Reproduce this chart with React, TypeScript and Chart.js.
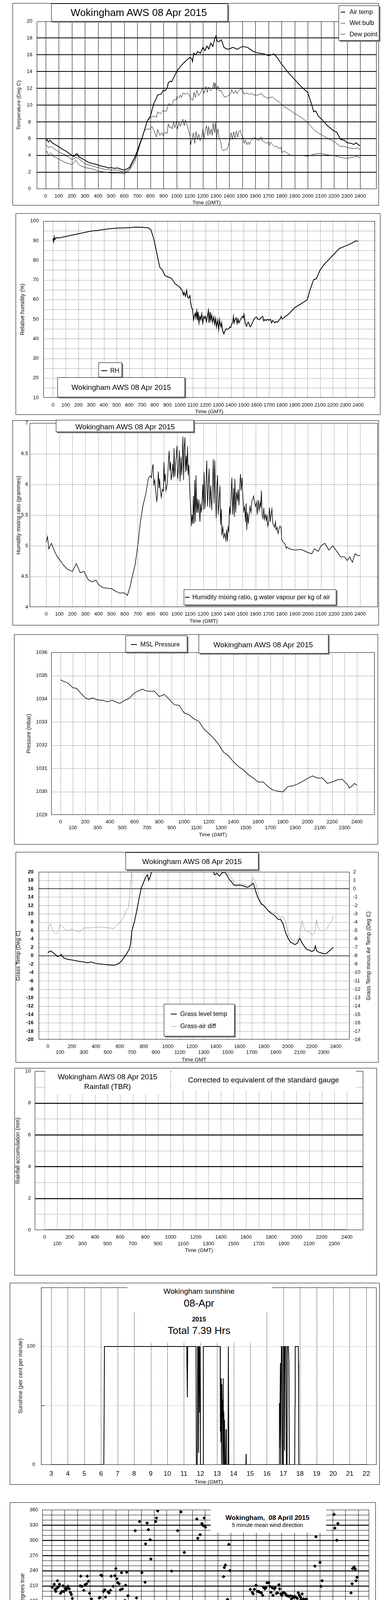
import React, { useEffect, useRef } from "react";
import { Chart, registerables } from "chart.js";
Chart.register(...registerables);

const FONT = "'Liberation Sans', Arial, Helvetica, sans-serif";
Chart.defaults.font.family = FONT;
Chart.defaults.color = "#000";

type Pt = [number, number];

// ---------- tick values / labels ----------
const timeTicks = [0, 100, 200, 300, 400, 500, 600, 700, 800, 900, 1000, 1100, 1200, 1300, 1400, 1500, 1600, 1700, 1800, 1900, 2000, 2100, 2200, 2300, 2400];
const tempTicks = [0, 2, 4, 6, 8, 10, 12, 14, 16, 18, 20];
const rhTicks = [10, 20, 30, 40, 50, 60, 70, 80, 90, 100];
const mixTicks = [4, 4.5, 5, 5.5, 6, 6.5, 7];
const pressTicks = [1029, 1030, 1031, 1032, 1033, 1034, 1035, 1036];
const grassTicks = [-20, -18, -16, -14, -12, -10, -8, -6, -4, -2, 0, 2, 4, 6, 8, 10, 12, 14, 16, 18, 20];
const diffTicks = [-18, -17, -16, -15, -14, -13, -12, -11, -10, -9, -8, -7, -6, -5, -4, -3, -2, -1, 0, 1, 2];
const rainTicks = [0, 2, 4, 6, 8, 10];
const sunTicks = [0, 50, 100];
const sunHourTicks = [3, 4, 5, 6, 7, 8, 9, 10, 11, 12, 13, 14, 15, 16, 17, 18, 19, 20, 21, 22];
const dirTicks = [0, 30, 60, 90, 120, 150, 180, 210, 240, 270, 300, 330, 360];
const dirHourTicks = [0, 1, 2, 3, 4, 5, 6, 7, 8, 9, 10, 11, 12, 13, 14, 15, 16, 17, 18, 19, 20, 21, 22, 23, 24];
const speedTicks = [0, 10, 20, 30, 40, 50];
const windHourTicks = [0, 1, 2, 3, 4, 5, 6, 7, 8, 9, 10, 11, 12, 13, 14, 15, 16, 17, 18, 19, 20, 21, 22, 23];
const windHourLabels = ["00:00", "01:00", "02:00", "03:00", "04:00", "05:00", "06:00", "07:00", "08:00", "09:00", "10:00", "11:00", "12:00", "13:00", "14:00", "15:00", "16:00", "17:00", "18:00", "19:00", "20:00", "21:00", "22:00", "23:00"];

// ---------- panel 1: temperatures ----------
const airTemp: Pt[] = [[0,5.7],[10,5.9],[20,5.6],[35,5.8],[50,5.5],[70,5.3],[100,5.05],[120,4.8],[150,4.55],[175,4.3],[200,4.0],[215,3.85],[230,4.15],[240,4.2],[255,3.8],[280,3.6],[300,3.4],[330,3.15],[350,3.05],[380,2.95],[400,2.85],[430,2.7],[450,2.65],[480,2.5],[500,2.55],[520,2.45],[550,2.5],[575,2.35],[600,2.25],[620,2.4],[640,2.55],[660,3.2],[680,3.8],[700,4.55],[720,5.5],[735,6.06],[775,8.1],[800,8.72],[825,10.2],[845,10.83],[855,11.22],[880,11.3],[896,11.77],[911,11.7],[926,12.0],[936,12.7],[951,12.86],[961,12.78],[976,13.25],[991,13.72],[1000,14.05],[1030,14.65],[1060,15.15],[1100,15.7],[1115,15.5],[1120,15.2],[1130,16.2],[1145,16.0],[1160,16.4],[1180,16.2],[1200,16.9],[1215,16.5],[1230,17.05],[1245,16.7],[1260,17.4],[1275,17.0],[1290,17.9],[1300,18.25],[1310,17.6],[1320,17.55],[1340,17.8],[1360,16.9],[1380,16.7],[1400,16.7],[1430,16.9],[1460,16.65],[1500,17.0],[1540,16.9],[1580,16.45],[1620,16.2],[1660,16.15],[1700,15.9],[1740,16.1],[1760,15.8],[1800,14.9],[1850,13.9],[1900,13.05],[1950,12.2],[2000,11.5],[2030,10.05],[2045,9.2],[2060,9.3],[2080,8.7],[2100,8.4],[2150,7.55],[2200,6.9],[2220,6.8],[2250,5.9],[2280,5.8],[2300,5.5],[2330,5.45],[2350,5.3],[2370,5.5],[2390,5.2],[2400,5.2]];
const wetBulb: Pt[] = [[0,5.3],[20,4.9],[40,5.1],[60,4.85],[100,4.4],[150,4.05],[200,3.5],[230,3.75],[250,3.65],[300,3.0],[350,2.75],[400,2.55],[450,2.35],[500,2.25],[550,2.25],[600,2.0],[640,2.4],[680,3.55],[700,4.4],[720,5.3],[735,6.0],[775,8.1],[805,8.56],[825,8.7],[845,8.56],[855,9.2],[876,8.95],[896,9.35],[921,9.27],[931,9.8],[941,10.2],[961,9.97],[976,10.6],[998,10.67],[1001,11.06],[1017,10.83],[1027,11.2],[1037,10.9],[1047,11.45],[1067,11.3],[1082,11.45],[1097,11.14],[1112,10.67],[1122,10.6],[1132,11.53],[1142,10.9],[1153,11.77],[1168,11.14],[1183,11.53],[1198,12.0],[1208,11.4],[1223,12.23],[1233,11.53],[1243,12.16],[1258,11.7],[1273,12.0],[1283,12.7],[1288,11.92],[1293,12.63],[1304,11.77],[1314,12.3],[1324,11.7],[1339,11.77],[1349,11.37],[1364,10.94],[1379,11.0],[1399,11.2],[1414,11.45],[1419,11.84],[1434,11.37],[1450,11.77],[1460,11.37],[1480,11.84],[1495,11.92],[1505,11.7],[1515,11.3],[1530,11.45],[1550,11.3],[1570,11.37],[1591,11.2],[1621,11.2],[1646,11.4],[1656,11.14],[1676,10.98],[1691,10.83],[1711,10.9],[1732,10.98],[1752,10.67],[1782,10.36],[1817,9.8],[1850,9.55],[1900,9.0],[1950,8.55],[2000,7.9],[2050,7.0],[2100,6.5],[2150,6.05],[2200,5.65],[2250,5.05],[2270,5.1],[2300,4.95],[2350,4.8],[2380,4.9],[2400,4.65]];
const dewPoint: Pt[] = [[0,4.4],[10,4.5],[20,4.0],[40,4.3],[60,3.9],[100,3.55],[150,3.15],[200,2.9],[230,3.4],[260,2.8],[300,2.55],[350,2.4],[400,2.15],[450,2.0],[500,1.9],[550,1.9],[600,1.8],[640,2.25],[680,3.25],[700,4.25],[720,5.3],[735,6.06],[755,7.0],[775,7.16],[795,7.1],[810,7.47],[825,7.0],[840,6.37],[845,6.2],[855,7.1],[871,6.37],[886,6.7],[896,6.37],[911,6.77],[926,6.6],[936,7.78],[946,7.3],[956,7.47],[966,7.16],[976,7.94],[986,7.3],[998,8.1],[1006,7.16],[1017,7.94],[1027,7.47],[1037,7.86],[1047,8.33],[1057,7.55],[1067,8.25],[1082,7.47],[1092,6.84],[1102,6.37],[1107,5.28],[1117,5.9],[1127,6.7],[1137,5.44],[1147,6.84],[1157,5.9],[1168,6.53],[1178,5.75],[1193,6.37],[1200,7.16],[1208,6.06],[1218,7.0],[1228,7.55],[1238,6.37],[1243,7.47],[1253,6.53],[1263,7.16],[1271,6.37],[1278,7.86],[1288,6.7],[1294,7.94],[1304,6.06],[1314,7.16],[1324,5.9],[1334,5.75],[1344,4.81],[1354,4.58],[1369,4.66],[1384,4.73],[1394,5.12],[1404,5.75],[1414,6.7],[1424,5.9],[1434,6.84],[1444,6.06],[1455,6.92],[1465,6.2],[1475,6.84],[1485,7.0],[1495,6.37],[1505,6.2],[1515,5.44],[1525,5.83],[1535,5.28],[1545,5.6],[1555,5.28],[1565,5.75],[1580,5.98],[1596,6.14],[1611,5.9],[1626,5.75],[1636,6.06],[1646,6.2],[1651,5.75],[1666,5.67],[1681,5.44],[1696,5.6],[1706,5.2],[1716,5.6],[1731,5.28],[1747,5.05],[1762,5.12],[1777,4.81],[1792,4.97],[1807,4.34],[1822,4.5],[1850,4.2],[1870,4.0],[1900,4.0],[1950,4.0],[2000,3.9],[2050,4.15],[2100,4.25],[2150,4.05],[2200,4.0],[2250,3.75],[2300,3.65],[2350,3.8],[2380,3.9],[2400,3.65]];

// ---------- panel 2: relative humidity ----------
const relHum: Pt[] = [[0,91.1],[5,89.5],[10,92],[15,90.5],[25,91.5],[50,91.4],[100,92.1],[150,92.8],[200,93.5],[250,94.2],[300,94.9],[350,95.2],[400,95.7],[450,96.1],[500,96.4],[550,96.5],[600,96.6],[650,96.9],[700,96.8],[750,96.6],[770,95.5],[790,91.4],[800,88.7],[820,82.5],[840,76.4],[860,75.0],[880,72.2],[900,71.6],[930,70.9],[960,68.1],[1000,66.1],[1015,64.7],[1026,62.3],[1031,63.7],[1041,61.7],[1051,64.7],[1057,61.4],[1067,60.7],[1077,62.0],[1082,58.7],[1090,55.7],[1096,55.4],[1100,53.4],[1106,49.7],[1114,52.1],[1119,53.1],[1124,50.7],[1131,54.1],[1137,49.4],[1141,53.7],[1148,48.1],[1155,51.4],[1162,49.7],[1170,52.7],[1178,48.1],[1186,51.4],[1193,50.4],[1199,51.4],[1207,48.8],[1214,51.4],[1222,54.4],[1227,48.1],[1235,53.7],[1241,49.4],[1248,52.1],[1255,48.4],[1264,51.1],[1272,47.4],[1279,50.4],[1286,46.1],[1295,49.4],[1303,44.8],[1310,49.7],[1315,47.4],[1321,46.1],[1326,48.1],[1331,45.4],[1336,43.8],[1344,42.5],[1352,44.1],[1362,45.1],[1372,44.8],[1383,45.1],[1390,46.1],[1398,45.8],[1406,47.4],[1414,48.8],[1419,51.4],[1424,48.1],[1431,49.7],[1440,50.7],[1448,47.8],[1455,50.1],[1462,48.1],[1471,49.4],[1481,50.4],[1489,51.4],[1496,50.7],[1502,52.4],[1507,50.1],[1512,47.8],[1522,46.4],[1530,48.1],[1538,48.4],[1545,46.8],[1551,46.1],[1559,46.8],[1569,48.4],[1579,49.7],[1590,50.7],[1600,51.1],[1610,50.1],[1621,49.7],[1631,50.4],[1641,51.1],[1649,51.4],[1657,49.1],[1667,49.7],[1678,49.4],[1688,49.9],[1698,49.4],[1709,49.9],[1719,48.1],[1727,49.3],[1735,48.8],[1745,48.1],[1755,48.8],[1766,48.4],[1776,49.4],[1786,50.1],[1794,51.4],[1802,50.1],[1812,50.4],[1820,51.1],[1850,52.4],[1900,55.8],[1950,57.8],[2000,59.9],[2020,64.7],[2050,70.2],[2070,70.5],[2100,75.0],[2130,77.7],[2150,79.1],[2200,82.5],[2250,85.9],[2300,87.3],[2350,88.7],[2380,89.9],[2400,89.7]];

// ---------- panel 3: mixing ratio ----------
const mixRatio: Pt[] = [[0,5.06],[10,5.15],[20,4.95],[40,5.04],[60,4.93],[80,4.84],[100,4.78],[130,4.69],[160,4.62],[200,4.58],[230,4.71],[260,4.56],[290,4.58],[320,4.45],[350,4.41],[380,4.44],[400,4.37],[430,4.32],[460,4.31],[500,4.30],[530,4.26],[560,4.23],[600,4.23],[620,4.19],[640,4.32],[660,4.52],[680,4.69],[700,5.0],[720,5.39],[740,5.66],[760,5.83],[780,6.09],[795,6.14],[805,6.11],[813,6.30],[817,6.32],[823,6.0],[830,6.07],[837,5.90],[845,5.73],[850,5.81],[857,6.21],[863,5.94],[867,6.09],[873,5.90],[880,5.79],[887,5.92],[895,5.89],[900,6.37],[905,6.05],[910,6.17],[915,5.90],[925,6.0],[935,6.39],[940,6.55],[945,6.22],[950,6.37],[955,6.07],[963,6.20],[967,6.34],[973,6.11],[977,6.59],[983,6.13],[990,6.37],[995,6.48],[1000,6.63],[1005,6.09],[1013,6.32],[1017,6.56],[1023,6.05],[1030,6.45],[1035,6.15],[1040,6.37],[1045,6.78],[1050,6.07],[1055,6.58],[1060,6.77],[1065,6.20],[1070,6.47],[1075,6.22],[1080,6.62],[1085,6.15],[1090,6.32],[1095,6.0],[1100,5.77],[1105,5.62],[1110,5.32],[1115,5.51],[1120,5.36],[1125,5.81],[1130,5.36],[1135,6.07],[1140,5.39],[1145,6.15],[1150,5.54],[1155,5.77],[1160,5.54],[1167,5.75],[1175,5.39],[1180,5.69],[1185,5.54],[1192,5.75],[1197,6.0],[1202,5.58],[1207,6.20],[1213,5.60],[1220,5.94],[1227,6.39],[1233,5.64],[1240,6.03],[1245,6.26],[1250,5.62],[1257,5.98],[1265,5.58],[1273,6.09],[1277,6.41],[1283,5.69],[1288,6.39],[1295,5.77],[1300,5.45],[1305,5.96],[1310,6.15],[1315,5.51],[1322,5.73],[1328,5.98],[1333,5.34],[1338,5.60],[1343,5.17],[1350,5.30],[1357,5.13],[1365,5.20],[1373,5.09],[1379,5.26],[1385,5.07],[1390,5.30],[1395,5.24],[1401,5.64],[1407,5.51],[1413,5.81],[1419,6.11],[1425,5.51],[1432,5.94],[1437,5.47],[1442,6.09],[1448,5.54],[1455,5.88],[1462,5.73],[1467,5.92],[1473,5.66],[1479,5.98],[1485,6.17],[1490,5.90],[1497,6.11],[1503,5.81],[1510,5.56],[1517,5.64],[1523,5.39],[1528,5.69],[1533,5.26],[1538,5.54],[1545,5.36],[1552,5.54],[1558,5.64],[1565,5.54],[1572,5.73],[1580,5.77],[1585,5.81],[1592,5.71],[1600,5.64],[1607,5.71],[1613,5.51],[1620,5.75],[1627,5.58],[1635,5.71],[1640,5.62],[1645,5.90],[1650,5.51],[1657,5.45],[1663,5.62],[1668,5.43],[1675,5.51],[1682,5.41],[1688,5.51],[1693,5.32],[1700,5.39],[1707,5.62],[1712,5.39],[1719,5.51],[1725,5.60],[1732,5.36],[1738,5.34],[1745,5.30],[1752,5.39],[1757,5.26],[1765,5.30],[1772,5.20],[1780,5.28],[1787,5.32],[1795,5.30],[1800,5.11],[1807,5.07],[1815,5.05],[1825,5.03],[1835,4.96],[1840,4.98],[1860,4.95],[1900,4.93],[1950,4.94],[2000,4.89],[2030,4.87],[2050,4.95],[2080,4.91],[2100,5.0],[2130,5.04],[2160,4.93],[2190,5.0],[2220,4.91],[2250,4.82],[2280,4.82],[2300,4.76],[2320,4.82],[2340,4.73],[2360,4.87],[2380,4.84],[2400,4.84]];

// ---------- panel 4: pressure ----------
const mslPressure: Pt[] = [[0,1034.82],[30,1034.74],[60,1034.68],[100,1034.48],[130,1034.45],[160,1034.27],[200,1034.04],[230,1033.98],[260,1034.04],[300,1033.95],[350,1033.93],[380,1033.87],[420,1033.94],[460,1033.84],[480,1033.81],[520,1033.93],[560,1034.04],[600,1034.27],[640,1034.36],[660,1034.42],[700,1034.33],[760,1034.33],[800,1034.10],[840,1034.19],[880,1033.98],[920,1033.75],[960,1033.72],[1000,1033.40],[1040,1033.32],[1080,1033.14],[1120,1033.03],[1160,1032.71],[1200,1032.51],[1240,1032.30],[1280,1032.04],[1320,1031.70],[1360,1031.55],[1400,1031.29],[1440,1031.09],[1480,1030.94],[1520,1030.74],[1560,1030.59],[1600,1030.42],[1640,1030.42],[1680,1030.22],[1720,1030.07],[1760,1030.02],[1800,1029.99],[1840,1030.22],[1880,1030.25],[1920,1030.33],[1960,1030.45],[2000,1030.57],[2040,1030.68],[2080,1030.59],[2120,1030.59],[2160,1030.36],[2200,1030.42],[2240,1030.51],[2280,1030.54],[2320,1030.33],[2340,1030.16],[2360,1030.25],[2380,1030.36],[2400,1030.28]];

// ---------- panel 5: grass temperature ----------
const grassTemp: Pt[] = [[0,0.67],[10,1.0],[20,1.17],[40,0.83],[60,0.33],[80,-0.17],[100,0],[110,0.33],[130,-0.5],[160,-0.83],[200,-1.0],[230,-1.17],[260,-1.33],[300,-1.5],[330,-1.67],[360,-1.5],[400,-1.83],[450,-2.0],[500,-2.17],[550,-2.27],[580,-2.0],[600,-1.67],[620,-1.0],[640,-0.17],[660,0.67],[680,1.67],[690,3.0],[700,6.0],[720,8.0],[740,10.67],[760,13.67],[780,16.33],[800,17.67],[820,19.0],[830,19.33],[840,18.0],[850,18.67],[870,20.5],[900,22],[1000,24],[1100,25],[1200,25],[1300,23],[1370,20.5],[1380,20],[1390,19.3],[1410,19.67],[1430,19.0],[1450,19.67],[1470,20],[1490,19.4],[1510,18.3],[1530,17.67],[1550,16.83],[1570,16.83],[1600,16.83],[1630,16.67],[1660,16.33],[1680,16.5],[1700,17],[1710,17.33],[1720,16.67],[1740,14.67],[1760,13.33],[1780,12.33],[1800,12.0],[1820,11.33],[1840,10.67],[1860,10.17],[1880,9.83],[1900,9.33],[1920,8.67],[1940,8.67],[1960,7.67],[1980,5.67],[2000,4.33],[2020,3.33],[2040,3.0],[2060,2.67],[2080,3.0],[2100,4.17],[2120,3.0],[2140,2.17],[2160,1.5],[2180,1.33],[2200,1.0],[2220,1.33],[2230,2.33],[2240,1.17],[2260,0.83],[2280,0.67],[2300,0.5],[2320,0.5],[2340,1.0],[2360,1.5],[2380,2.0]];
const grassAirDiff: Pt[] = [[0,-5.0],[10,-4.5],[20,-4.17],[30,-4.67],[50,-5.17],[70,-5.42],[90,-5.0],[100,-4.25],[120,-4.5],[140,-4.83],[160,-5.0],[200,-4.83],[230,-5.0],[260,-5.17],[280,-4.9],[300,-4.67],[350,-4.67],[400,-4.58],[450,-4.58],[500,-4.67],[550,-4.75],[580,-4.25],[600,-4.08],[630,-3.5],[650,-2.67],[670,-2.33],[680,-1.17],[690,0.67],[700,2.2],[750,4],[900,5],[1100,5],[1300,4],[1450,3],[1500,2.1],[1530,1.33],[1550,0.83],[1570,0.17],[1590,0.5],[1620,0.58],[1650,0.42],[1680,0.33],[1700,0.8],[1710,1.33],[1720,1.17],[1740,0.33],[1760,-0.83],[1780,-1.67],[1800,-2.08],[1820,-2.33],[1840,-2.67],[1860,-2.75],[1880,-2.83],[1900,-2.92],[1920,-3.0],[1940,-3.5],[1960,-3.33],[1980,-3.83],[2000,-5.17],[2020,-5.83],[2040,-6.17],[2060,-6.33],[2080,-6.17],[2100,-5.5],[2120,-3.83],[2140,-4.83],[2160,-5.17],[2180,-5.0],[2200,-5.5],[2220,-5.33],[2230,-4.83],[2240,-3.67],[2250,-4.5],[2270,-5.0],[2290,-5.0],[2310,-5.0],[2330,-4.67],[2350,-4.17],[2370,-3.75],[2380,-3.17]];

// ---------- panel 6: rainfall ----------
const rainfall: Pt[] = [[0, 0], [2400, 0]];

// ---------- panel 7: sunshine ----------
const sunshine: Pt[] = [[3,0],[6.17,0],[6.19,41],[6.21,100],[11.17,100],[11.19,79],[11.21,57],[11.23,100],[11.73,100],[11.75,0],[11.81,0],[11.83,100],[11.87,100],[11.88,10],[11.9,100],[11.93,100],[11.95,44],[11.97,100],[12.0,0],[12.15,0],[12.17,100],[13.19,100],[13.2,28],[13.22,60],[13.23,19],[13.25,73],[13.27,0],[13.29,68],[13.31,40],[13.33,55],[13.35,0],[13.37,73],[13.39,10],[13.41,45],[13.43,0],[13.45,38],[13.47,0],[13.52,0],[13.54,30],[13.56,0],[13.66,0],[13.68,100],[13.7,100],[13.71,0],[14.74,0],[14.75,9],[14.76,0],[16.75,0],[16.76,52],[16.77,14],[16.82,86],[16.84,0],[16.88,100],[16.92,100],[16.94,0],[16.98,0],[17.0,100],[17.05,100],[17.07,12],[17.1,100],[17.16,100],[17.18,0],[17.22,0],[17.24,100],[17.3,100],[17.33,88],[17.36,0],[17.68,0],[17.7,50],[17.71,100],[17.9,100],[17.91,87],[17.92,36],[17.93,0],[22,0]];

// ---------- panel 8: wind direction ----------
const windDirection: Pt[] = [[0.04,207],[0.2,213],[0.26,203],[0.32,199],[0.4,205],[0.45,220],[0.53,208],[0.61,213],[0.69,195],[0.81,199],[0.89,210],[0.95,199],[1.05,205],[1.13,202],[1.21,206],[1.28,209],[1.38,204],[1.46,197],[1.54,193],[1.62,185],[1.72,162],[1.78,157],[1.88,177],[1.94,174],[2.02,137],[2.13,161],[2.23,210],[2.27,229],[2.37,209],[2.51,201],[2.61,212],[2.73,214],[2.79,229],[2.87,219],[2.96,195],[3.06,178],[3.12,184],[3.22,168],[3.3,135],[3.36,109],[3.46,90],[3.56,135],[3.62,140],[3.72,186],[3.79,187],[3.85,231],[3.93,230],[4.05,199],[4.17,202],[4.21,188],[4.29,161],[4.41,198],[4.49,196],[4.53,90],[4.6,201],[4.66,229],[4.76,170],[4.82,209],[4.94,230],[5.02,244],[5.1,224],[5.18,216],[5.28,214],[5.38,202],[5.47,236],[5.53,204],[5.61,151],[5.73,181],[5.79,211],[5.87,237],[5.97,190],[6.03,153],[6.11,149],[6.21,111],[6.28,70],[6.38,66],[6.44,69],[6.54,319],[6.64,186],[6.72,148],[6.8,144],[6.88,337],[6.96,176],[7.06,236],[7.11,173],[7.19,165],[7.31,217],[7.35,293],[7.47,334],[7.57,321],[7.57,7],[7.61,40],[7.71,301],[7.77,263],[7.89,13],[7.96,7],[8.14,337],[8.2,344],[8.3,358],[8.38,7],[8.48,103],[8.52,9],[8.7,69],[8.75,36],[8.83,33],[8.91,67],[8.96,69],[9.09,70],[9.19,57],[9.31,141],[9.39,239],[9.47,111],[9.55,100],[9.63,46],[9.71,57],[9.78,41],[9.86,319],[9.96,6],[10.0,9],[10.12,356],[10.22,103],[10.3,171],[10.38,276],[10.45,74],[10.51,70],[10.61,69],[10.69,76],[10.81,50],[10.93,1],[11.03,30],[11.09,41],[11.17,43],[11.28,14],[11.36,342],[11.44,304],[11.54,9],[11.62,311],[11.7,20],[11.76,333],[11.86,329],[11.94,344],[12.04,326],[12.13,30],[12.19,24],[12.27,4],[12.37,27],[12.41,13],[12.51,46],[12.61,53],[12.65,26],[12.75,43],[12.85,40],[12.94,83],[13.0,29],[13.1,73],[13.16,132],[13.26,119],[13.36,163],[13.46,228],[13.52,246],[13.6,251],[13.7,171],[13.77,183],[13.87,292],[13.95,240],[14.03,44],[14.11,56],[14.21,82],[14.29,93],[14.37,55],[14.45,31],[14.53,91],[14.6,94],[14.68,76],[14.76,74],[14.86,84],[14.94,96],[15.02,100],[15.1,107],[15.18,129],[15.28,122],[15.36,163],[15.47,176],[15.55,203],[15.71,197],[15.77,194],[15.87,203],[16.0,211],[16.11,199],[16.21,199],[16.3,197],[16.42,196],[16.52,191],[16.58,207],[16.7,204],[16.78,206],[16.86,216],[17.0,216],[17.09,209],[17.17,197],[17.27,206],[17.33,191],[17.43,204],[17.49,206],[17.59,195],[17.69,196],[17.79,212],[17.85,204],[17.94,194],[18.02,191],[18.12,196],[18.2,196],[18.28,195],[18.38,191],[18.48,190],[18.58,189],[18.7,190],[18.77,184],[18.87,189],[18.95,187],[19.03,189],[19.13,187],[19.23,185],[19.31,196],[19.39,191],[19.49,187],[19.53,183],[19.61,194],[19.64,181],[19.72,184],[19.8,181],[19.88,183],[19.94,184],[20.02,180],[20.1,179],[20.18,174],[20.26,160],[20.36,158],[20.45,171],[20.53,173],[20.61,249],[20.69,307],[20.83,28],[20.89,20],[21.01,256],[21.09,209],[21.17,220],[21.28,144],[21.34,137],[21.42,141],[21.48,144],[21.58,113],[21.68,96],[21.76,69],[21.84,74],[21.94,65],[22.04,27],[22.11,351],[22.17,324],[22.25,57],[22.33,300],[22.41,333],[22.55,24],[22.61,21],[22.69,81],[22.77,165],[22.83,103],[22.94,85],[23.02,93],[23.08,92],[23.16,95],[23.24,97],[23.32,107],[23.44,196],[23.52,214],[23.56,244],[23.68,247],[23.77,243],[23.83,220],[23.91,227]];

// ---------- panel 9: wind speed ----------
const speedMean: Pt[] = [[0,1.26],[0.2,2.1],[0.4,1.5],[0.6,2.1],[0.8,1.5],[1.0,2.1],[1.2,1.8],[1.4,2.1],[1.6,1.26],[1.8,1.5],[2.0,0.44],[2.2,1.8],[2.4,1.26],[2.6,0.7],[2.8,0.55],[3.0,0.44],[3.5,0.55],[4.0,1.0],[4.5,0.55],[5.0,0.9],[5.5,1.0],[6.0,0.9],[6.5,1.0],[6.8,0.16],[7.0,0.7],[7.3,0.44],[7.6,1.0],[8.0,0.7],[8.3,1.26],[8.6,1.8],[9.0,2.1],[9.3,1.5],[9.6,2.35],[10.0,1.8],[10.3,2.35],[10.6,1.26],[11.0,2.1],[11.3,1.5],[11.6,2.6],[12.0,2.1],[12.3,3.2],[12.6,2.6],[13.0,2.1],[13.3,2.9],[13.6,2.1],[13.9,1.26],[14.0,2.1],[14.3,2.6],[14.6,2.6],[15.0,3.7],[15.3,4.3],[15.6,5.6],[15.9,7.3],[16.1,6.2],[16.4,5.4],[16.7,5.1],[17.0,5.4],[17.3,5.1],[17.6,5.9],[17.9,5.1],[18.2,6.7],[18.5,5.6],[18.8,5.4],[19.1,4.8],[19.4,4.0],[19.7,3.2],[20.0,2.6],[20.3,2.35],[20.6,1.5],[20.9,1.0],[21.2,0.55],[21.5,1.26],[21.8,1.8],[22.1,1.26],[22.4,0.55],[22.7,0.7],[23.0,1.8],[23.2,3.7],[23.4,3.45],[23.6,1.5],[23.9,1.26],[24.0,0.9]];
const speedGust: Pt[] = [[0,3.2],[0.2,2.6],[0.5,3.45],[0.8,2.6],[1.0,4.0],[1.3,2.6],[1.6,2.9],[1.9,2.1],[2.0,1.0],[2.2,3.45],[2.5,2.1],[2.8,1.26],[3.0,1.0],[3.5,1.1],[4.0,1.64],[4.5,1.26],[5.0,1.5],[5.5,1.5],[6.0,1.5],[6.5,1.5],[6.8,0.44],[7.0,1.26],[7.5,1.5],[8.0,2.1],[8.3,2.6],[8.6,3.45],[9.0,4.3],[9.3,3.45],[9.6,4.8],[10.0,4.0],[10.3,5.1],[10.6,3.7],[11.0,4.8],[11.3,4.0],[11.6,5.4],[12.0,4.8],[12.3,5.9],[12.6,5.1],[13.0,4.8],[13.3,5.6],[13.6,4.8],[13.9,3.2],[14.0,4.0],[14.3,5.1],[14.6,5.1],[15.0,6.5],[15.3,7.8],[15.6,10.3],[15.9,12.5],[16.1,9.7],[16.4,8.1],[16.7,8.9],[17.0,7.6],[17.3,8.7],[17.6,9.7],[17.9,8.1],[18.2,9.7],[18.5,8.1],[18.8,7.6],[19.1,6.2],[19.4,5.6],[19.7,4.8],[20.0,4.5],[20.3,3.7],[20.6,2.6],[20.9,1.5],[21.2,1.0],[21.5,2.1],[21.8,2.35],[22.1,2.1],[22.4,1.0],[22.7,1.5],[23.0,3.2],[23.2,4.5],[23.4,4.0],[23.6,2.1],[23.9,1.8],[24.0,1.26]];
const speedScaled: Pt[] = [[0.0,12.5],[0.02,13.6],[0.04,15.2],[0.06,17.1],[0.08,19.1],[0.1,22.9],[0.12,25.6],[0.14,24.5],[0.2,21.2],[0.23,20.2],[0.26,21.8],[0.29,19.3],[0.32,20.7],[0.35,18.5],[0.4,20.2],[0.44,21.8],[0.48,19.3],[0.52,21.2],[0.6,23.4],[0.63,25.6],[0.66,26.7],[0.69,24.5],[0.72,22.3],[0.8,27.3],[0.83,25.1],[0.86,22.9],[0.89,21.2],[0.92,18.0],[1.0,17.4],[1.03,19.6],[1.06,22.3],[1.09,27.3],[1.12,28.4],[1.15,24.3],[1.2,22.9],[1.24,21.2],[1.28,19.1],[1.32,17.4],[1.4,16.3],[1.43,15.2],[1.46,13.6],[1.49,12.5],[1.52,11.7],[1.6,14.7],[1.63,16.9],[1.66,18.5],[1.69,21.2],[1.72,22.6],[1.78,16.9],[1.8,12.5],[1.83,10.3],[1.86,7.0],[1.89,4.8],[1.92,8.7],[2.0,9.7],[2.04,11.1],[2.08,9.2],[2.18,14.7],[2.21,17.4],[2.24,20.2],[2.27,23.4],[2.3,24.0],[2.33,21.2],[2.4,19.1],[2.43,16.9],[2.46,13.6],[2.49,11.9],[2.52,10.3],[2.6,8.7],[2.63,7.0],[2.66,5.9],[2.69,4.8],[2.72,4.0],[2.8,6.2],[2.84,7.6],[2.88,8.1],[2.92,5.4],[3.0,4.8],[3.05,5.9],[3.1,7.0],[3.2,7.8],[3.24,6.2],[3.28,4.8],[3.32,4.3],[3.4,5.4],[3.45,7.0],[3.5,8.1],[3.6,8.7],[3.65,10.3],[3.7,11.7],[3.8,13.0],[3.84,13.6],[3.88,11.9],[3.92,9.7],[4.0,8.7],[4.08,7.6],[4.2,7.6],[4.28,6.5],[4.4,5.4],[4.44,4.3],[4.48,3.2],[4.52,5.9],[4.6,4.8],[4.65,7.0],[4.7,6.5],[4.8,7.6],[4.85,8.7],[4.9,9.7],[5.0,10.3],[5.04,11.7],[5.08,11.4],[5.12,9.7],[5.2,8.7],[5.28,8.1],[5.4,7.6],[5.45,6.5],[5.5,5.6],[5.6,5.1],[5.65,4.8],[5.7,5.9],[5.8,9.7],[5.85,10.3],[5.9,10.8],[6.0,9.7],[6.05,10.3],[6.1,8.7],[6.2,10.8],[6.24,12.5],[6.28,14.1],[6.32,10.3],[6.4,8.7],[6.44,7.0],[6.48,5.4],[6.52,3.2],[6.6,6.2],[6.64,6.7],[6.68,4.3],[6.72,2.1],[6.8,2.6],[6.85,1.5],[6.9,0.4],[7.0,2.1],[7.05,3.2],[7.1,4.0],[7.2,2.6],[7.24,4.3],[7.28,7.0],[7.32,8.7],[7.4,10.3],[7.44,11.9],[7.48,7.6],[7.52,5.9],[7.6,9.2],[7.63,10.8],[7.66,7.0],[7.69,4.3],[7.72,2.6],[7.8,8.7],[7.85,12.5],[7.9,10.8],[8.0,9.2],[8.04,11.4],[8.08,14.1],[8.12,7.0],[8.2,12.5],[8.25,10.3],[8.3,8.1],[8.4,5.9],[8.44,4.8],[8.48,7.0],[8.52,10.8],[8.6,15.8],[8.63,18.0],[8.66,19.1],[8.69,16.9],[8.72,14.1],[8.78,20.2],[8.8,22.9],[8.82,26.7],[8.84,29.5],[8.86,31.7],[8.88,32.2],[9.0,30.0],[9.03,27.8],[9.06,24.5],[9.09,20.7],[9.12,19.1],[9.2,16.9],[9.24,15.2],[9.28,12.5],[9.32,10.3],[9.4,8.7],[9.44,5.9],[9.48,12.5],[9.52,17.4],[9.6,22.3],[9.64,20.2],[9.68,18.5],[9.72,16.3],[9.8,14.1],[9.84,12.5],[9.88,9.2],[9.92,17.4],[10.0,22.9],[10.04,21.2],[10.08,19.6],[10.12,16.9],[10.2,15.8],[10.23,13.6],[10.26,11.4],[10.29,9.2],[10.32,7.0],[10.4,4.8],[10.43,18.0],[10.46,21.8],[10.49,24.5],[10.52,26.2],[10.6,23.4],[10.64,20.7],[10.68,17.4],[10.72,30.6],[10.8,30.0],[10.83,27.3],[10.86,24.0],[10.89,20.2],[10.92,18.5],[11.0,16.9],[11.03,14.7],[11.06,13.0],[11.09,10.8],[11.12,9.2],[11.2,18.0],[11.23,19.1],[11.26,21.2],[11.29,23.4],[11.32,25.6],[11.4,30.6],[11.43,22.3],[11.46,20.2],[11.49,16.9],[11.52,15.8],[11.6,10.8],[11.64,9.2],[11.68,13.6],[11.72,19.6],[11.8,22.3],[11.83,25.6],[11.86,30.0],[11.89,33.8],[11.92,36.0],[12.0,32.2],[12.04,30.0],[12.08,27.8],[12.12,25.6],[12.2,38.2],[12.24,36.6],[12.28,33.3],[12.32,30.6],[12.4,35.5],[12.44,26.7],[12.48,23.4],[12.52,19.6],[12.6,22.3],[12.64,24.5],[12.68,38.2],[12.72,36.6],[12.8,34.4],[12.84,32.2],[12.88,28.9],[12.92,25.6],[13.0,21.2],[13.04,19.1],[13.08,18.0],[13.12,22.9],[13.2,27.3],[13.24,30.0],[13.28,32.2],[13.32,33.3],[13.4,31.7],[13.44,34.4],[13.48,28.9],[13.52,26.7],[13.6,23.4],[13.63,21.2],[13.66,17.4],[13.69,15.8],[13.72,14.1],[13.8,12.5],[13.83,10.8],[13.86,8.1],[13.89,5.9],[13.92,3.7],[14.0,18.5],[14.04,14.1],[14.08,22.3],[14.12,24.5],[14.2,25.6],[14.24,27.8],[14.28,28.9],[14.32,30.0],[14.4,27.3],[14.44,26.2],[14.48,28.4],[14.52,25.1],[14.6,30.0],[14.64,31.1],[14.68,34.4],[14.72,37.1],[14.8,38.8],[14.84,39.9],[14.88,37.7],[14.92,36.0],[15.0,35.5],[15.05,33.8],[15.1,32.2],[15.2,33.3],[15.24,34.9],[15.28,36.6],[15.32,38.8],[15.36,39.6],[15.45,39.0],[15.5,38.8],[19.3,38.2],[19.33,36.6],[19.36,37.7],[19.42,34.9],[19.45,32.2],[19.48,30.0],[19.51,27.8],[19.6,26.7],[19.63,25.1],[19.66,24.5],[19.69,26.2],[19.8,29.5],[19.84,31.1],[19.88,30.0],[20.0,32.8],[20.04,31.1],[20.08,28.9],[20.2,26.7],[20.23,23.4],[20.26,20.2],[20.29,16.9],[20.4,15.2],[20.43,13.0],[20.46,10.8],[20.49,8.7],[20.6,16.9],[20.64,18.5],[20.68,15.8],[20.72,12.5],[20.8,9.2],[20.83,6.5],[20.86,5.4],[20.89,4.3],[20.92,2.6],[21.0,7.0],[21.03,9.7],[21.06,12.5],[21.09,14.1],[21.12,15.8],[21.2,19.1],[21.24,21.2],[21.28,22.3],[21.32,20.2],[21.4,19.6],[21.44,21.8],[21.48,23.4],[21.52,24.5],[21.6,21.2],[21.64,18.0],[21.68,15.8],[21.72,13.0],[21.8,12.5],[21.83,10.8],[21.86,8.7],[21.89,6.5],[21.92,4.3],[22.0,2.6],[22.04,3.7],[22.08,5.9],[22.12,7.6],[22.2,8.1],[22.24,7.0],[22.28,5.9],[22.32,8.7],[22.4,9.7],[22.44,10.3],[22.48,12.5],[22.52,15.2],[22.6,16.9],[22.63,18.5],[22.66,21.2],[22.69,24.5],[22.72,26.7],[22.8,29.5],[22.84,32.2],[22.88,33.8],[22.92,34.9],[23.0,32.2],[23.04,27.8],[23.08,23.4],[23.12,18.5],[23.2,16.3],[23.24,14.7],[23.28,12.5],[23.32,11.4],[23.4,13.6],[23.44,15.2],[23.48,12.5],[23.52,10.8],[23.6,14.1],[23.64,12.5],[23.68,10.3],[23.72,9.2]];

// ---------- gridline values ----------
const tempGrid = [2, 4, 6, 8, 10, 12, 14, 16, 18];
const rhGrid = [15, 20, 25, 30, 35, 40, 45, 50, 55, 60, 65, 70, 75, 80, 85, 90, 95];
const mixGrid = [4.5, 5, 5.5, 6, 6.5];
const pressGrid = [1030, 1031, 1032, 1033, 1034, 1035];
const grassDotGrid = [-18, -16, -14, -12, -10, -8, -6, -4, -2, 2, 4, 6, 8, 10, 12, 14, 18];
const grassSolidGrid = [0, 16];
const rainDotGrid = [1, 3, 5, 7, 9];
const rainSolidGrid = [2, 4, 6, 8];
const dirThinGrid = [10, 20, 40, 50, 70, 80, 100, 110, 130, 140, 160, 170, 190, 200, 220, 230, 250, 260, 280, 290, 310, 320, 340, 350];
const dirThickGrid = [30, 60, 90, 120, 150, 180, 210, 240, 270, 300, 330];
const speedGrid = [5, 10, 15, 20, 25, 30, 35, 40, 45];

// ---------- generic panel ----------
type Box4 = [number, number, number, number];
interface AxisDef {
  min: number; max: number; ticks: number[];
  label?: (v: number, i: number) => any;
  size?: number; bold?: boolean; pad: number; lh?: number; cross?: string;
  title?: string; titleSize?: number; titleAt?: number;
}
interface GridDef { axis: string; values: number[]; width: number; color?: string; dash?: number[]; len?: number }
interface PanelDef { frame: Box4; plot: Box4; x: AxisDef; y: AxisDef; y2?: AxisDef; datasets: any[]; grid: GridDef[] }

const M = 20;
const DOT = [1, 2];
const alt = (v: number, i: number) => (i % 2 === 0 ? String(v) : ["", String(v)]);

function ChartPanel({ def, children }: { def: PanelDef; children?: any }) {
  const ref = useRef<HTMLCanvasElement>(null);
  const [fl, ft, fr, fb] = def.frame;
  const cl = Math.round(fl - M), ct = Math.round(ft - M);
  const cw = Math.round(fr + M) - cl, ch = Math.round(fb + M) - ct;

  useEffect(() => {
    const [pl, pt, pr, pb] = def.plot;
    const cr = cl + cw, cb = ct + ch;
    const mk = (a: AxisDef, kind: string) => {
      const size = a.size ?? 13;
      const tSize = a.titleSize ?? 14;
      const tLH = tSize * 1.2;
      let tp: any = { top: 0, bottom: 0 };
      if (a.title && a.titleAt !== undefined) {
        if (kind === "x") tp = { top: 0, bottom: cb - a.titleAt - tLH / 2 };
        else if (kind === "y") tp = { top: a.titleAt - cl - tLH / 2, bottom: 0 };
        else tp = { top: cr - a.titleAt - tLH / 2, bottom: 0 };
      }
      return {
        type: "linear",
        min: a.min, max: a.max,
        position: kind === "x" ? "bottom" : kind === "y" ? "left" : "right",
        afterFit: (s: any) => {
          if (kind === "x") s.height = cb - pb;
          else if (kind === "y") s.width = pl - cl;
          else s.width = cr - pr;
        },
        afterBuildTicks: (s: any) => { s.ticks = a.ticks.map((v) => ({ value: v })); },
        ticks: {
          autoSkip: false, maxRotation: 0, minRotation: 0, padding: a.pad, color: "#000",
          crossAlign: a.cross ?? "near",
          font: { size, weight: a.bold ? "bold" : "normal", lineHeight: a.lh ?? 1.2, family: FONT },
          callback: (v: number, i: number) => (a.label ? a.label(v, i) : String(v)),
        },
        grid: { display: false, drawTicks: false, drawOnChartArea: false },
        border: { display: false },
        title: a.title
          ? { display: true, text: a.title, color: "#000", font: { size: tSize, family: FONT, lineHeight: 1.2 }, padding: tp }
          : { display: false },
      };
    };
    const scales: any = { x: mk(def.x, "x"), y: mk(def.y, "y") };
    if (def.y2) scales.y2 = mk(def.y2, "y2");

    const gridPlugin = {
      id: "customGrid",
      beforeDatasetsDraw(chart: any) {
        const { ctx, chartArea: a } = chart;
        ctx.save();
        for (const g of def.grid) {
          const sc = chart.scales[g.axis];
          ctx.beginPath();
          ctx.lineWidth = g.width;
          ctx.strokeStyle = g.color || "#000";
          ctx.setLineDash(g.dash || []);
          const off = Math.round(g.width) % 2 === 1 ? 0.5 : 0;
          for (const v of g.values) {
            const p = Math.round(sc.getPixelForValue(v)) + off;
            if (g.axis === "x") { ctx.moveTo(p, a.top); ctx.lineTo(p, a.bottom); }
            else { ctx.moveTo(a.left, p); ctx.lineTo(g.len ? a.left + g.len : a.right, p); }
          }
          ctx.stroke();
        }
        ctx.setLineDash([]);
        ctx.lineWidth = 1;
        ctx.strokeStyle = "#000";
        const L = Math.round(a.left) + 0.5, T = Math.round(a.top) + 0.5;
        const R = Math.round(a.right) - 0.5, B = Math.round(a.bottom) - 0.5;
        ctx.strokeRect(L, T, R - L, B - T);
        ctx.restore();
      },
    };

    const chart = new Chart(ref.current as HTMLCanvasElement, {
      type: "line",
      data: { datasets: def.datasets },
      options: {
        animation: false,
        responsive: false,
        maintainAspectRatio: false,
        events: [],
        layout: { padding: { left: 0, top: pt - ct, right: def.y2 ? 0 : cr - pr, bottom: 0 } },
        plugins: { legend: { display: false }, tooltip: { enabled: false }, title: { display: false } },
        elements: { point: { radius: 0 }, line: { tension: 0 } },
        scales,
      } as any,
      plugins: [gridPlugin],
    } as any);
    return () => chart.destroy();
  }, [def]);

  return (
    <>
      <div style={{ position: "absolute", left: fl, top: ft, width: fr - fl, height: fb - ft, border: "1px solid #000", boxSizing: "border-box" }} />
      <canvas ref={ref} width={cw} height={ch} style={{ position: "absolute", left: cl, top: ct, width: cw, height: ch }} />
      {children}
    </>
  );
}

// ---------- overlay helpers ----------
const Box = ({ l, t, r, b, plain }: any) => (
  <div style={{ position: "absolute", left: l, top: t, width: r - l, height: b - t, background: "#fff", border: plain ? "none" : "1px solid #000", boxSizing: "border-box", boxShadow: plain ? "none" : "3px 3px 0 #7f7f7f" }} />
);
const Txt = ({ x, y, size, bold, left, rot, children }: any) => (
  <div style={{ position: "absolute", left: x, top: y, transform: rot ? "translate(-50%,-50%) rotate(-90deg)" : left ? "translate(0,-50%)" : "translate(-50%,-50%)", fontSize: size, fontWeight: bold ? "bold" : "normal", lineHeight: 1, whiteSpace: "pre", color: "#000", fontFamily: FONT }}>{children}</div>
);
const Mark = ({ x1, x2, y, w, color }: any) => (
  <div style={{ position: "absolute", left: x1, top: y - w / 2, width: x2 - x1, height: w, background: color || "#000" }} />
);

const lineDs = (data: Pt[], color: string, width: number, extra: any = {}) => ({
  data, borderColor: color, borderWidth: width, pointRadius: 0, fill: false, tension: 0, ...extra,
});

// ---------- panel definitions ----------
const P1: PanelDef = {
  frame: [32, 8, 969, 526], plot: [93.5, 54.6, 963.2, 483.6],
  x: { min: -69.5, max: 2525, ticks: timeTicks, pad: 10.6, title: "Time (GMT)", titleAt: 519, titleSize: 13.5 },
  y: { min: 0, max: 20, ticks: tempTicks, pad: 10.8, cross: "center", title: "Temperature (Deg C)", titleAt: 48, titleSize: 13.5 },
  grid: [{ axis: "x", values: timeTicks, width: 1 }, { axis: "y", values: tempGrid, width: 2 }],
  datasets: [lineDs(airTemp, "#000", 2), lineDs(wetBulb, "#000", 1), lineDs(dewPoint, "#000", 1)],
};
const P2: PanelDef = {
  frame: [40, 546, 973, 1062], plot: [111, 565.8, 959.4, 1018],
  x: { min: -75.3, max: 2533, ticks: timeTicks, pad: 11.2, title: "Time (GMT)", titleAt: 1054, titleSize: 13.5 },
  y: { min: 10, max: 100, ticks: rhTicks, pad: 12.3, title: "Relative humidity (%)", titleAt: 58 },
  grid: [{ axis: "x", values: timeTicks, width: 1, dash: DOT }, { axis: "y", values: rhGrid, width: 1, dash: DOT }],
  datasets: [lineDs(relHum, "#000", 2)],
};
const P3: PanelDef = {
  frame: [32, 1075.5, 969, 1600.7], plot: [76.1, 1083.1, 965.8, 1554.2],
  x: { min: -125.5, max: 2533, ticks: timeTicks, pad: 10.4, title: "Time (GMT)", titleAt: 1590, titleSize: 13.5 },
  y: { min: 4, max: 7, ticks: mixTicks, pad: 4, title: "Humidity mixing ratio (grammes)", titleAt: 48 },
  grid: [{ axis: "x", values: timeTicks, width: 1, dash: DOT }, { axis: "y", values: mixGrid, width: 1, dash: DOT }],
  datasets: [lineDs(mixRatio, "#000", 1.5)],
};
const P4: PanelDef = {
  frame: [35.5, 1623.7, 966.5, 2162.5], plot: [131, 1670.2, 958, 2086.2],
  x: { min: -75.3, max: 2542.8, ticks: timeTicks, label: alt, pad: 10, title: "Time (GMT)", titleAt: 2137.5, titleSize: 13.5 },
  y: { min: 1029, max: 1036, ticks: pressTicks, pad: 10, title: "Pressure (mbar)", titleAt: 74 },
  grid: [{ axis: "x", values: timeTicks, width: 1, dash: DOT }, { axis: "y", values: pressGrid, width: 1, dash: DOT }],
  datasets: [lineDs(mslPressure, "#000", 1.5)],
};
const P5: PanelDef = {
  frame: [40, 2181.4, 967.7, 2719.9], plot: [98.7, 2232.1, 893.5, 2661.4],
  x: { min: -78, max: 2513.5, ticks: timeTicks, label: alt, pad: 9.8, title: "Time GMT", titleAt: 2713, titleSize: 13.5 },
  y: { min: -20, max: 20, ticks: grassTicks, bold: true, pad: 13, title: "Grass Temp (Deg C)", titleAt: 47.5 },
  y2: { min: -18, max: 2, ticks: diffTicks, pad: 9.5 },
  grid: [
    { axis: "x", values: timeTicks, width: 1, dash: DOT },
    { axis: "y", values: grassDotGrid, width: 1, dash: DOT },
    { axis: "y", values: grassSolidGrid, width: 1.5 },
  ],
  datasets: [lineDs(grassTemp, "#000", 2), lineDs(grassAirDiff, "#8a8a8a", 1, { yAxisID: "y2" })],
};
const P6: PanelDef = {
  frame: [37.4, 2733.7, 964.5, 3265], plot: [89, 2742.3, 929, 3149],
  x: { min: -78.2, max: 2530, ticks: timeTicks, label: alt, pad: 9.2, lh: 1.35, title: "Time (GMT)", titleAt: 3201, titleSize: 13.5 },
  y: { min: 0, max: 10, ticks: rainTicks, pad: 10, title: "Rainfall accumulation (mm)", titleAt: 46 },
  grid: [
    { axis: "x", values: timeTicks, width: 1, dash: DOT },
    { axis: "y", values: rainDotGrid, width: 1, dash: DOT },
    { axis: "y", values: rainSolidGrid, width: 2.5 },
  ],
  datasets: [lineDs(rainfall, "#000", 3)],
};
const P7: PanelDef = {
  frame: [24.5, 3284.1, 971, 3801.4], plot: [104.5, 3295.6, 963.2, 3749.5],
  x: { min: 2.375, max: 22.62, ticks: sunHourTicks, size: 17, pad: 13.3, title: "Time (GMT)", titleAt: 3794, titleSize: 13.5 },
  y: { min: 0, max: 150, ticks: sunTicks, label: (v: number) => (v === 50 ? "" : String(v)), pad: 14.5, title: "Sunshine (per cent per minute)", titleAt: 53 },
  grid: [
    { axis: "x", values: sunHourTicks, width: 1, dash: [3, 2] },
    { axis: "y", values: [50, 100], width: 1, dash: [1, 1], color: "#9a9a9a" },
    { axis: "y", values: [50], width: 1, len: 11 },
  ],
  datasets: [lineDs(sunshine, "#000", 2)],
};
const P8: PanelDef = {
  frame: [24.5, 3846.2, 961.3, 4379.8], plot: [108.4, 3865.4, 943.9, 4331.6],
  x: { min: -0.73, max: 24.85, ticks: dirHourTicks, pad: 10.6, title: "Time (GMT)", titleAt: 4367, titleSize: 13.5 },
  y: { min: 0, max: 360, ticks: dirTicks, pad: 11, title: "Direction, degrees true", titleAt: 58 },
  grid: [
    { axis: "x", values: dirHourTicks, width: 1 },
    { axis: "y", values: dirThinGrid, width: 1 },
    { axis: "y", values: dirThickGrid, width: 2.5 },
  ],
  datasets: [{ data: windDirection, showLine: false, pointStyle: "rectRot", pointRadius: 4.5, backgroundColor: "#000", borderColor: "#000", borderWidth: 0 }],
};
const P9: PanelDef = {
  frame: [21.3, 4395, 959.4, 4909.8], plot: [80.6, 4439.3, 953.5, 4835.2],
  x: { min: -0.735, max: 25.35, ticks: windHourTicks, label: (_v: number, i: number) => (i % 2 === 0 ? windHourLabels[i] : ["", windHourLabels[i]]), size: 12.5, pad: 11, title: "Time (GMT)", titleAt: 4887 },
  y: { min: 0, max: 50, ticks: speedTicks, pad: 13, title: "Speed (knots)", titleAt: 35.5 },
  grid: [
    { axis: "x", values: windHourTicks, width: 1, dash: DOT },
    { axis: "y", values: speedGrid, width: 1, dash: DOT },
  ],
  datasets: [
    { data: speedScaled, showLine: false, pointStyle: "rectRot", pointRadius: 4.7, backgroundColor: "#c4c4c4", borderColor: "#555", borderWidth: 1 },
    lineDs(speedMean, "#000", 2),
    lineDs(speedGust, "#6e6e6e", 1),
  ],
};

const TITLE = "Wokingham AWS 08 Apr 2015";

export default function App() {
  return (
    <div style={{ position: "absolute", left: 0, top: 0, width: 1000, height: 5000, background: "#fff", overflow: "hidden", fontFamily: FONT }}>
      <ChartPanel def={P1}>
        <Box l={131} t={9} r={583} b={55} />
        <Txt x={355} y={32} size={26}>{TITLE}</Txt>
        <Box l={866} t={14} r={970} b={104} />
        <Mark x1={871} x2={883} y={31} w={2.5} />
        <Txt x={894} y={31} size={16} left>Air temp</Txt>
        <Mark x1={871} x2={883} y={59} w={1} />
        <Txt x={894} y={59} size={16} left>Wet bulb</Txt>
        <Mark x1={871} x2={883} y={87.5} w={1} />
        <Txt x={894} y={87.5} size={16} left>Dew point</Txt>
      </ChartPanel>

      <ChartPanel def={P2}>
        <Box l={252} t={928} r={312} b={966} />
        <Mark x1={259} x2={274} y={949} w={2.5} />
        <Txt x={282} y={949} size={16} left>RH</Txt>
        <Box l={147} t={966} r={473} b={1017} />
        <Txt x={310} y={991} size={19}>{TITLE}</Txt>
      </ChartPanel>

      <ChartPanel def={P3}>
        <Box l={143} t={1075} r={496} b={1106} />
        <Txt x={320} y={1092} size={19}>{TITLE}</Txt>
        <Box l={470} t={1509} r={860} b={1549} />
        <Mark x1={473} x2={485} y={1529} w={2.5} />
        <Txt x={492} y={1529} size={16} left>Humidity mixing ratio, g water vapour per kg of air</Txt>
      </ChartPanel>

      <ChartPanel def={P4}>
        <Box l={321} t={1627} r={479} b={1670} />
        <Mark x1={335} x2={350} y={1650} w={2.5} />
        <Txt x={359} y={1650} size={16} left>MSL Pressure</Txt>
        <Box l={508} t={1624} r={840} b={1673} />
        <Txt x={673} y={1650} size={19}>{TITLE}</Txt>
      </ChartPanel>

      <ChartPanel def={P5}>
        <Box l={321} t={2182} r={661} b={2227} />
        <Txt x={491} y={2205} size={19}>{TITLE}</Txt>
        <Box l={419} t={2570} r={600} b={2653} />
        <Mark x1={437} x2={452} y={2596} w={2.5} />
        <Txt x={461} y={2596} size={16} left>Grass level temp</Txt>
        <Mark x1={437} x2={452} y={2627} w={1} color="#8a8a8a" />
        <Txt x={461} y={2627} size={16} left>Grass-air diff</Txt>
        <Txt x={942} y={2447} size={14} rot>Grass Temp minus Air Temp (Deg C)</Txt>
      </ChartPanel>

      <ChartPanel def={P6}>
        <Box l={116} t={2740} r={436} b={2802} plain />
        <Box l={438} t={2740} r={910} b={2792} plain />
        <Txt x={275} y={2756} size={19}>{TITLE}</Txt>
        <Txt x={275} y={2781} size={19}>Rainfall (TBR)</Txt>
        <Txt x={674} y={2764} size={19}>Corrected to equivalent of the standard gauge</Txt>
      </ChartPanel>

      <ChartPanel def={P7}>
        <Box l={326} t={3293} r={695} b={3360} plain />
        <Box l={350} t={3359} r={670} b={3437} plain />
        <Txt x={509} y={3305} size={19}>Wokingham sunshine</Txt>
        <Txt x={509} y={3336} size={26}>08-Apr</Txt>
        <Txt x={509} y={3378} size={16} bold>2015</Txt>
        <Txt x={509} y={3406} size={26}>Total 7.39 Hrs</Txt>
      </ChartPanel>

      <ChartPanel def={P8}>
        <Box l={539} t={3863} r={834} b={3924} plain />
        <Txt x={684} y={3885} size={17} bold>Wokingham,  08 April 2015</Txt>
        <Txt x={684} y={3904} size={14}>5 minute mean wind direction</Txt>
      </ChartPanel>

      <ChartPanel def={P9}>
        <Box l={88} t={4437} r={429} b={4442} plain />
        <Txt x={257} y={4419} size={19}>Wokingham,  08 April 2015</Txt>
        <Txt x={572} y={4408} size={14}>Wind speed, 10 min mean / max gust</Txt>
        <Txt x={572} y={4425} size={14}>Speeds below 4 kt shown at x10 scale</Txt>
        <Box l={728} t={4401} r={954} b={4427} />
        <Mark x1={761} x2={773} y={4415} w={2.5} />
        <Txt x={781} y={4415} size={11} left>Speed x 1</Txt>
        <div style={{ position: "absolute", left: 851.5, top: 4411.5, width: 7, height: 7, background: "#c4c4c4", border: "1px solid #555", boxSizing: "border-box", transform: "rotate(45deg)" }} />
        <Txt x={868} y={4415} size={11} left>Speed / 10</Txt>
      </ChartPanel>
    </div>
  );
}
